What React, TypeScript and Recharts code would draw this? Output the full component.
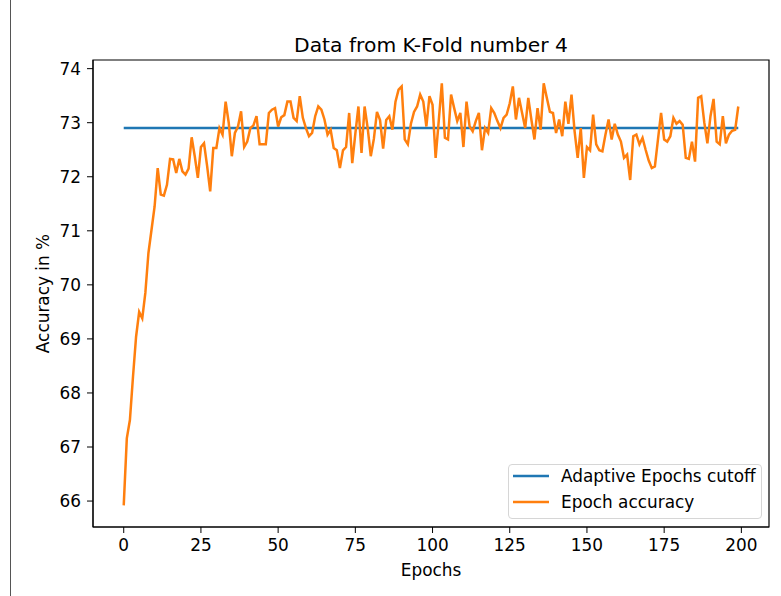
import React from 'react';
import { LineChart, Line, XAxis, YAxis, Legend, ReferenceArea, Label } from 'recharts';

// Accuracy per epoch
const accuracy = [
  65.92, 67.16, 67.5, 68.3, 69.04, 69.5, 69.38, 69.85, 70.59, 71.02,
  71.45, 72.16, 71.67, 71.65, 71.85, 72.33, 72.32, 72.07, 72.33, 72.1,
  72.04, 72.15, 72.73, 72.38, 71.98, 72.55, 72.62, 72.2, 71.73, 72.53,
  72.53, 72.9, 72.78, 73.39, 73.0, 72.38, 72.81, 72.93, 73.21, 72.55,
  72.65, 72.9, 72.95, 73.12, 72.6, 72.6, 72.6, 73.18, 73.24, 73.27,
  72.93, 73.1, 73.14, 73.39, 73.39, 73.09, 73.03, 73.49, 73.09, 72.9,
  72.75, 72.81, 73.12, 73.3, 73.24, 73.06, 72.78, 72.87, 72.53, 72.49,
  72.16, 72.49, 72.55, 73.18, 72.25, 72.8, 73.3, 72.44, 73.3, 72.9,
  72.38, 72.7, 73.2, 73.05, 72.52, 73.05, 73.12, 72.87, 73.39, 73.61,
  73.67, 72.69, 72.6, 72.98, 73.2, 73.3, 73.52, 73.39, 72.93, 73.49,
  73.33, 72.35, 73.03, 73.73, 72.72, 72.69, 73.52, 73.27, 73.03, 73.18,
  72.55, 73.39, 72.93, 72.84, 73.03, 73.18, 72.49, 72.9, 72.81, 73.27,
  73.18, 73.03, 72.9, 73.09, 73.15, 73.36, 73.67, 73.06, 73.46, 73.18,
  72.9, 73.46, 73.06, 72.69, 73.27, 72.87, 73.73, 73.46, 73.2, 73.18,
  72.81, 73.06, 72.75, 73.39, 72.98, 73.52, 72.84, 72.35, 72.9, 71.98,
  72.55, 72.49, 73.15, 72.6, 72.49, 72.47, 72.78, 73.06, 72.69, 72.98,
  72.78, 72.65, 72.35, 72.41, 71.94, 72.75, 72.78, 72.6, 72.72, 72.5,
  72.3, 72.16, 72.19, 72.69, 73.18, 72.69, 72.65, 72.75, 73.09, 72.98,
  73.03, 72.96, 72.35, 72.33, 72.65, 72.28, 73.46, 73.49, 73.0, 72.62,
  73.12, 73.44, 72.65, 72.6, 73.12, 72.62, 72.78, 72.85, 72.87, 73.3,
];

const cutoffValue = 72.9;
const cutoffEpochs = [0, 199];

const xTicks = [0, 25, 50, 75, 100, 125, 150, 175, 200];
const yTicks = [66, 67, 68, 69, 70, 71, 72, 73, 74];

const seriesNames = ['Adaptive Epochs cutoff', 'Epoch accuracy'];
const seriesColors = ['#1f77b4', '#ff7f0e'];

const data = accuracy.map((acc, epoch) => ({ epoch, acc }));
const cutoffData = cutoffEpochs.map(epoch => ({ epoch, cutoff: cutoffValue }));

const FONT = 'DejaVu Sans, sans-serif';
const tickStyle = { fontSize: 16.9, fill: '#000', fontFamily: FONT };

const LegendBox = () => (
  <div
    style={{
      width: 254,
      height: 55,
      boxSizing: 'border-box',
      border: '1px solid #d6d6d6',
      borderRadius: 4,
      background: 'rgba(255,255,255,0.8)',
    }}
  >
    <svg width={252} height={53} style={{ display: 'block' }}>
      {seriesNames.map((name, i) => (
        <g key={name}>
          <line x1={4} x2={40} y1={11 + i * 26} y2={11 + i * 26} stroke={seriesColors[i]} strokeWidth={2.5} />
          <text x={52} y={17 + i * 26} fontSize={16.9} fontFamily={FONT} fill="#000">
            {name}
          </text>
        </g>
      ))}
    </svg>
  </div>
);

export default function App() {
  return (
    <div style={{ position: 'absolute', left: 0, top: 0, width: 781, height: 596, background: '#fff' }}>
      <div style={{ position: 'absolute', left: 10, top: 0, width: 1, height: 596, background: '#555' }} />
      <LineChart
        width={781}
        height={596}
        data={data}
        margin={{ top: 60, right: 12, bottom: 0, left: 0 }}
      >
        <XAxis
          dataKey="epoch"
          type="number"
          domain={[-9.95, 208.95]}
          ticks={xTicks}
          allowDataOverflow
          height={69}
          tick={tickStyle}
          tickSize={6}
          tickMargin={6}
          stroke="#000"
          tickLine={{ stroke: '#000' }}
        >
          <Label
            content={() => (
              <g>
                <text x={431} y={576} textAnchor="middle" fontSize={16.9} fontFamily={FONT} fill="#000">
                  Epochs
                </text>
                <text x={431} y={52} textAnchor="middle" fontSize={20.3} fontFamily={FONT} fill="#000">
                  Data from K-Fold number 4
                </text>
              </g>
            )}
          />
        </XAxis>
        <YAxis
          type="number"
          domain={[65.52, 74.16]}
          ticks={yTicks}
          allowDataOverflow
          width={93}
          tick={tickStyle}
          tickSize={6}
          tickMargin={6}
          stroke="#000"
          tickLine={{ stroke: '#000' }}
        >
          <Label
            content={() => (
              <text
                x={49}
                y={293.5}
                transform="rotate(-90 49 293.5)"
                textAnchor="middle"
                fontSize={16.9}
                fontFamily={FONT}
                fill="#000"
              >
                Accuracy in %
              </text>
            )}
          />
        </YAxis>
        <ReferenceArea x1={-9.95} x2={208.95} y1={65.52} y2={74.16} fill="none" stroke="#000" strokeWidth={1.2} />
        <Line
          data={cutoffData}
          dataKey="cutoff"
          name={seriesNames[0]}
          stroke={seriesColors[0]}
          strokeWidth={2.5}
          dot={false}
          isAnimationActive={false}
        />
        <Line
          dataKey="acc"
          name={seriesNames[1]}
          stroke={seriesColors[1]}
          strokeWidth={2.5}
          dot={false}
          isAnimationActive={false}
        />
        <Legend
          layout="vertical"
          align="center"
          verticalAlign="middle"
          content={() => <LegendBox />}
          wrapperStyle={{ left: 508, top: 464, width: 254, height: 55 }}
        />
      </LineChart>
    </div>
  );
}
